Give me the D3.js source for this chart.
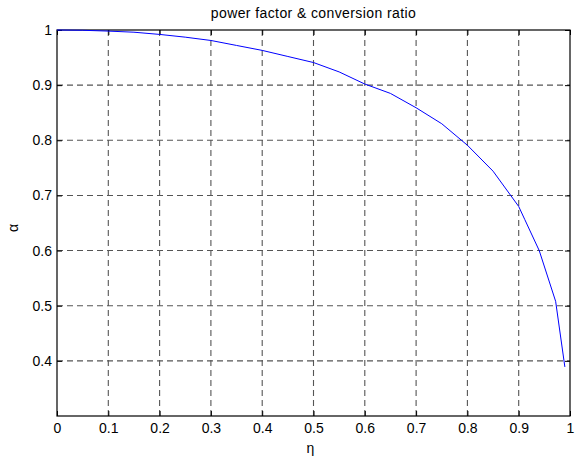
<!DOCTYPE html>
<html>
<head>
<meta charset="utf-8">
<script src="https://cdn.jsdelivr.net/npm/d3@7"></script>
<style>
  body { margin: 0; background: #fff; }
  text { font-family: "Liberation Sans", Arial, sans-serif; fill: #000; }
</style>
</head>
<body>
<svg id="chart" width="578" height="460"></svg>
<script>
// values
let etaValues = [0, 0.05, 0.1, 0.15, 0.2, 0.25, 0.3, 0.35, 0.4, 0.45, 0.5, 0.55, 0.6, 0.65, 0.7, 0.75, 0.8, 0.85, 0.9, 0.912, 0.94, 0.972, 0.99]
let alphaValues = [1.0, 0.9995, 0.998, 0.996, 0.992, 0.987, 0.981, 0.972, 0.963, 0.952, 0.941, 0.924, 0.902, 0.885, 0.859, 0.830, 0.791, 0.744, 0.68, 0.656, 0.60, 0.508, 0.389]
let xTicks = [0, 0.1, 0.2, 0.3, 0.4, 0.5, 0.6, 0.7, 0.8, 0.9, 1]
let yTicks = [0.4, 0.5, 0.6, 0.7, 0.8, 0.9, 1]

let svg = d3.select("#chart")

let plotVars = ({
    left: 57,
    right: 570,
    top: 30,
    bottom: 416,
})

let data = etaValues.map(function (d, i) { return { eta: d, alpha: alphaValues[i] } })

// scales
let xScale = d3.scaleLinear()
    .domain([0, 1])
    .range([plotVars.left, plotVars.right])

let yScale = d3.scaleLinear()
    .domain([0.3, 1])
    .range([plotVars.bottom, plotVars.top])

let plot = svg.append("g")

// grid lines
plot.selectAll("xgrid")
    .data(xTicks.slice(1, -1))
    .enter()
    .append("line")
    .attr("x1", function (d) { return xScale(d) })
    .attr("x2", function (d) { return xScale(d) })
    .attr("y1", plotVars.bottom)
    .attr("y2", plotVars.top)
    .attr("stroke", "#555")
    .attr("stroke-width", 1.1)
    .attr("stroke-dasharray", "6,4")

plot.selectAll("ygrid")
    .data(yTicks.slice(0, -1))
    .enter()
    .append("line")
    .attr("x1", plotVars.left)
    .attr("x2", plotVars.right)
    .attr("y1", function (d) { return yScale(d) })
    .attr("y2", function (d) { return yScale(d) })
    .attr("stroke", "#555")
    .attr("stroke-width", 1.1)
    .attr("stroke-dasharray", "6,4")

// axes, ticks pointing inward
let xAxis = d3.axisBottom(xScale).tickValues(xTicks).tickSize(-5).tickPadding(7)
    .tickFormat(function (d) { return d3.format("")(d) })
let yAxis = d3.axisLeft(yScale).tickValues(yTicks).tickSize(-5).tickPadding(5)
    .tickFormat(function (d) { return d3.format("")(d) })

plot.append("g")
    .attr("transform", "translate(0," + plotVars.bottom + ")")
    .call(xAxis)
plot.append("g")
    .attr("transform", "translate(" + plotVars.left + ",0)")
    .call(yAxis)

// top/right ticks
plot.append("g")
    .attr("transform", "translate(0," + plotVars.top + ")")
    .call(d3.axisTop(xScale).tickValues(xTicks).tickSize(-5).tickFormat(""))
plot.append("g")
    .attr("transform", "translate(" + plotVars.right + ",0)")
    .call(d3.axisRight(yScale).tickValues(yTicks).tickSize(-5).tickFormat(""))

plot.selectAll(".domain").remove()
plot.selectAll(".tick line").attr("stroke", "#000")
plot.selectAll(".tick text").style("font-size", "14px")

// box
plot.append("rect")
    .attr("x", plotVars.left)
    .attr("y", plotVars.top)
    .attr("width", plotVars.right - plotVars.left)
    .attr("height", plotVars.bottom - plotVars.top)
    .attr("fill", "none")
    .attr("stroke", "#000")
    .attr("stroke-width", 1.2)

// curve
let line = d3.line()
    .x(function (d) { return xScale(d.eta) })
    .y(function (d) { return yScale(d.alpha) })

plot.append("path")
    .datum(data)
    .attr("d", line)
    .attr("fill", "none")
    .attr("stroke", "#0000ff")
    .attr("stroke-width", 1)

// labels
svg.append("text")
    .attr("x", (plotVars.left + plotVars.right) / 2)
    .attr("y", 18)
    .style("text-anchor", "middle")
    .style("font-size", "14px")
    .style("letter-spacing", "0.4px")
    .text("power factor & conversion ratio")

svg.append("text")
    .attr("x", (plotVars.left + plotVars.right) / 2 - 3)
    .attr("y", 453)
    .style("text-anchor", "middle")
    .style("font-size", "14px")
    .text("η")

svg.append("text")
    .attr("transform", "translate(18," + 228 + ") rotate(-90)")
    .style("text-anchor", "middle")
    .style("font-size", "14px")
    .text("α")
</script>
</body>
</html>
